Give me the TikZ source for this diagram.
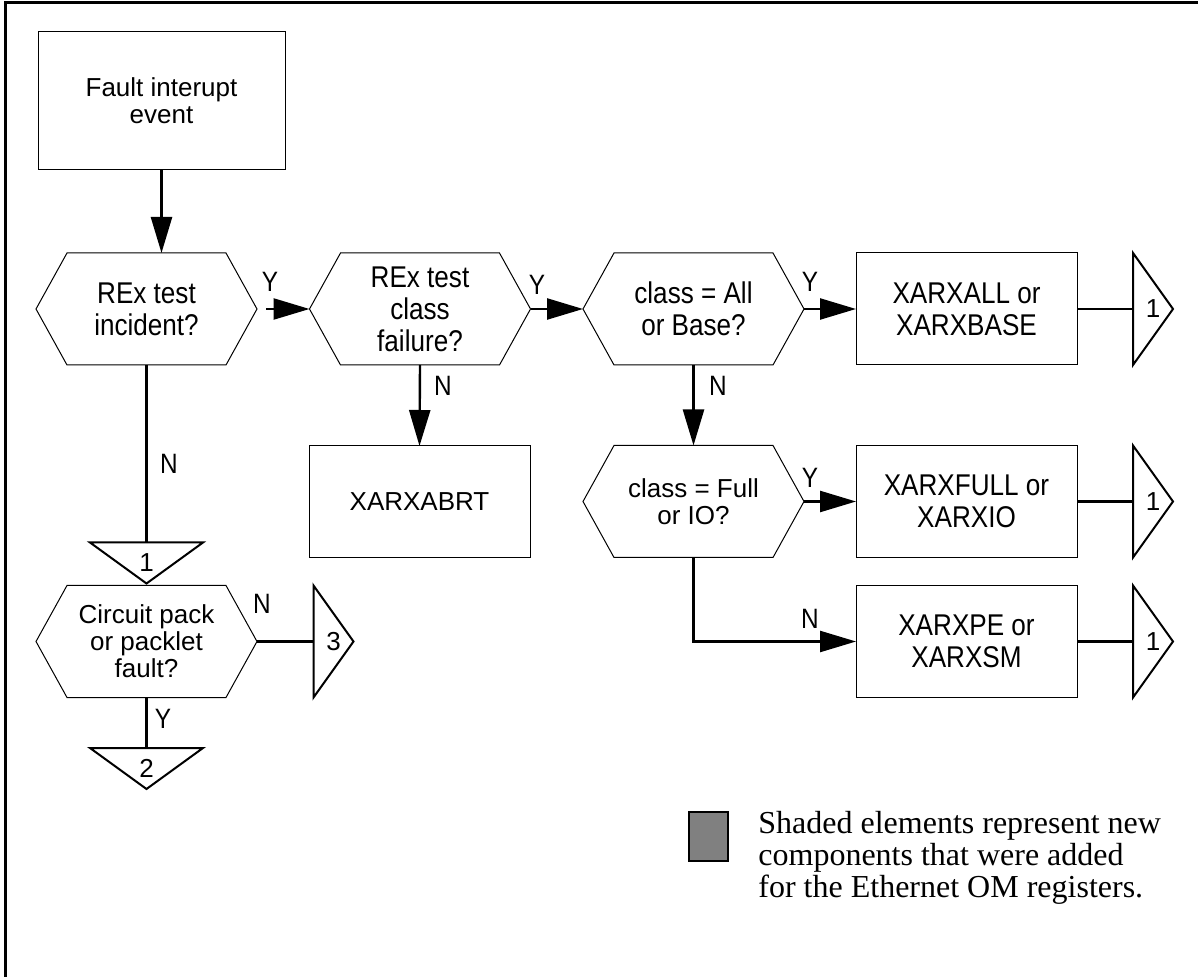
\documentclass[tikz,border=0pt]{standalone}
\usepackage{fontspec}
\setmainfont{Liberation Serif}
\setsansfont{Liberation Sans}
\newfontfamily\narrowsf[FakeStretch=0.87]{Liberation Sans}
\usepackage{tikz}
\usetikzlibrary{arrows.meta, positioning, calc}
\newcommand{\plainfont}{\sffamily\fontsize{13pt}{13.5pt}\selectfont}
\newcommand{\tallfont}{\narrowsf\fontsize{15pt}{16pt}\selectfont}
\newcommand{\tagfont}{\narrowsf\fontsize{14pt}{14pt}\selectfont}
\tikzset{
  >=Triangle,
  procbox/.style={rectangle, draw=black, line width=0.5pt, minimum width=110.5pt, minimum height=56pt, inner sep=0pt, outer sep=0pt, align=center, font=\tallfont},
  decision/.style={rectangle, minimum width=110.5pt, minimum height=56pt, inner sep=0pt, outer sep=0pt, align=center, font=\tallfont},
  hexline/.style={draw=black, line width=0.5pt, line join=miter},
  offpage/.style={rectangle, minimum width=20pt, minimum height=56pt, inner sep=0pt, outer sep=0pt, font=\plainfont},
  offpagedown/.style={rectangle, minimum width=56.5pt, minimum height=20.5pt, inner sep=0pt, outer sep=0pt, font=\plainfont},
  tri/.style={draw=black, line width=1pt, line join=miter},
  flowarrow/.style={-{Triangle[length=18pt, width=10.5pt]}, line width=1.2pt},
  flowline/.style={line width=1.2pt},
  yesno/.style={inner sep=0pt, font=\tagfont}
}

\begin{document}
\begin{tikzpicture}[x=0.5pt, y=-0.5pt]
    \useasboundingbox (0,0) rectangle (1198,977);
    % --- PAGE FRAME (cropped at right and bottom) ---
    \draw[line width=1.5pt] (5,977) -- (5,3) -- (1198,3);

    % --- START EVENT ---
    \node[procbox, minimum width=123.5pt, minimum height=69pt, font=\plainfont] (fault) at (161.5, 101) {Fault interupt\\event};

    % --- TOP ROW OF DECISIONS ---
    \node[decision] (rex) at (146.5, 309) {REx test\\incident?};
    \node[decision] (cls) at (420, 309) {REx test\\class\\failure?};
    \node[decision] (all) at (693.5, 309) {class = All\\or Base?};
    \node[procbox] (xall) at (966.5, 309) {XARXALL or\\XARXBASE};
    \node[offpage] (c1a) at (1153, 309) {1};

    % --- SECOND ROW ---
    \node[procbox, font=\plainfont] (abrt) at (419.5, 502) {XARXABRT};
    \node[decision, font=\plainfont] (full) at (693.5, 501.5) {class = Full\\or IO?};
    \node[procbox] (xfull) at (966.5, 501.5) {XARXFULL or\\XARXIO};
    \node[offpage] (c1b) at (1153, 501.5) {1};
    \node[procbox] (xpe) at (966.5, 641.5) {XARXPE or\\XARXSM};
    \node[offpage] (c1c) at (1153, 641.5) {1};

    % --- LEFT COLUMN ---
    \node[offpagedown] (t1) at (146.5, 563) {1};
    \node[decision, font=\plainfont] (pack) at (146.5, 641.5) {Circuit pack\\or packlet\\fault?};
    \node[offpage] (t3) at (333.5, 641.5) {3};
    \node[offpagedown] (t2) at (146.5, 768.5) {2};

    % hexagon outlines
    \foreach \h in {rex, cls, all, full, pack}
        \draw[hexline] ([xshift=15.5pt]\h.north west) -- ([xshift=-15.5pt]\h.north east) -- (\h.east)
            -- ([xshift=-15.5pt]\h.south east) -- ([xshift=15.5pt]\h.south west) -- (\h.west) -- cycle;
    % off-page connectors
    \foreach \t in {c1a, c1b, c1c, t3}
        \draw[tri] (\t.north west) -- (\t.east) -- (\t.south west) -- cycle;
    \foreach \t in {t1, t2}
        \draw[tri] (\t.north west) -- (\t.north east) -- (\t.south) -- cycle;

    % --- CONNECTORS ---
    \draw[flowarrow] (fault.south) -- (fault.south |- rex.north);
    \draw[flowarrow, shorten <=4.5pt] (rex.east) -- (cls.west);
    \draw[flowarrow] (cls.east) -- (all.west);
    \draw[flowarrow] (all.east) -- (xall.west);
    \draw[flowline] (xall.east) -- (c1a.west);
    \draw[flowarrow] (cls.south) -- (abrt.north);
    \draw[flowarrow] (all.south) -- (full.north);
    \draw[flowarrow] (full.east) -- (xfull.west);
    \draw[flowarrow] (full.south) |- (xpe.west);
    \draw[flowline] (xfull.east) -- (c1b.west);
    \draw[flowline] (xpe.east) -- (c1c.west);
    \draw[flowline] (rex.south) -- (t1.north);
    \draw[flowline] (pack.east) -- (t3.west);
    \draw[flowline] (pack.south) -- (t2.north);

    % Y / N labels
    \node[yesno] at (270, 282) {Y};
    \node[yesno] at (537, 285) {Y};
    \node[yesno] at (810, 282) {Y};
    \node[yesno] at (443, 386) {N};
    \node[yesno] at (718, 386) {N};
    \node[yesno] at (169, 464) {N};
    \node[yesno] at (810, 478) {Y};
    \node[yesno] at (810, 619) {N};
    \node[yesno] at (262, 604) {N};
    \node[yesno] at (163, 719) {Y};

    % --- LEGEND ---
    \node[draw=black, line width=1.2pt, fill=gray, minimum width=19.5pt, minimum height=24.5pt, inner sep=0pt] (key) at (708.5, 836.5) {};
    \node[anchor=north west, inner sep=0pt, align=left, font=\rmfamily\fontsize{16pt}{16pt}\selectfont] (keytext) at (758, 811)
        {Shaded elements represent new\\components that were added\\for the Ethernet OM registers.};
\end{tikzpicture}
\end{document}
